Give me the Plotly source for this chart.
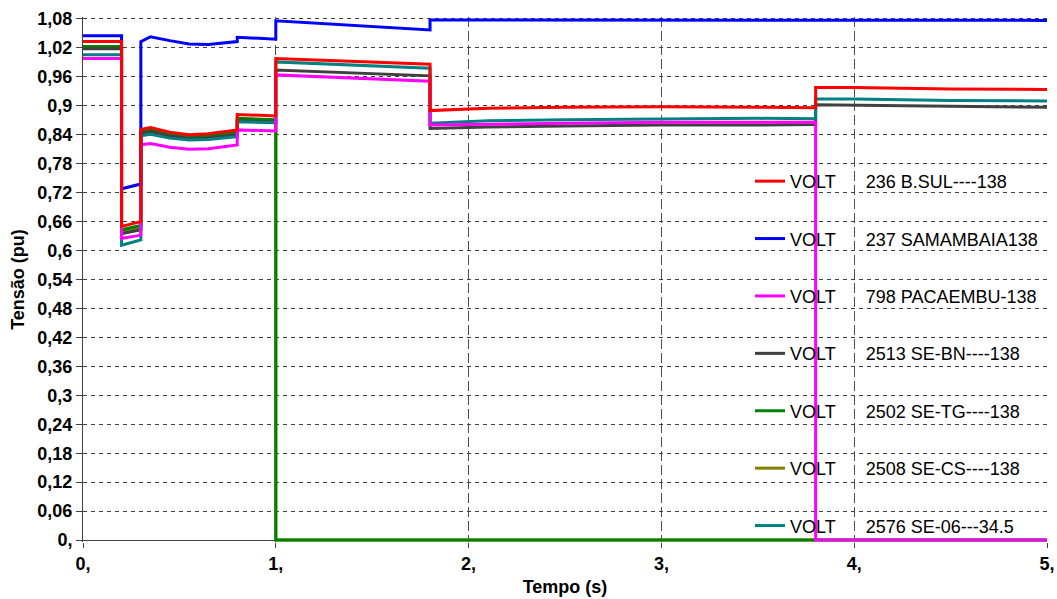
import plotly.graph_objects as go

# Time axis (s) with repeated instants for the discontinuities
tempo = [0.0, 0.2, 0.2, 0.3, 0.3, 0.35, 0.45, 0.55, 0.65, 0.8, 0.8, 1.0, 1.0,
         1.4, 1.8, 1.8, 2.1, 2.5, 3.0, 3.5, 3.8, 3.8, 4.0, 4.5, 5.0]

v_236 = [1.033, 1.033, 0.650, 0.660, 0.851, 0.855, 0.845, 0.840, 0.842, 0.850, 0.882, 0.879, 0.998,
         0.992, 0.986, 0.890, 0.895, 0.897, 0.898, 0.897, 0.896, 0.938, 0.938, 0.935, 0.934]
v_237 = [1.045, 1.045, 0.728, 0.738, 1.033, 1.043, 1.035, 1.028, 1.027, 1.033, 1.042, 1.038, 1.076,
         1.066, 1.057, 1.078, 1.078, 1.078, 1.077, 1.077, 1.077, 1.077, 1.078, 1.077, 1.077]
v_798 = [0.998, 0.998, 0.625, 0.632, 0.819, 0.822, 0.814, 0.810, 0.811, 0.819, 0.850, 0.848, 0.964,
         0.957, 0.951, 0.860, 0.862, 0.864, 0.866, 0.866, 0.866, 0.0, 0.0, 0.0, 0.0]
v_2513 = [1.018, 1.018, 0.635, 0.643, 0.843, 0.846, 0.837, 0.832, 0.834, 0.840, 0.869, 0.866, 0.974,
          0.968, 0.962, 0.853, 0.856, 0.858, 0.860, 0.860, 0.861, 0.902, 0.901, 0.898, 0.897]
v_2502 = [1.023, 1.023, 0.643, 0.652, 0.848, 0.851, 0.842, 0.837, 0.839, 0.846, 0.874, 0.871, 0.0,
          0.0, 0.0, 0.0, 0.0, 0.0, 0.0, 0.0, 0.0, 0.0, 0.0, 0.0, 0.0]
v_2508 = [1.020, 1.020, 0.640, 0.648, 0.846, 0.849, 0.840, 0.835, 0.837, 0.844, 0.872, 0.869, 0.0,
          0.0, 0.0, 0.0, 0.0, 0.0, 0.0, 0.0, 0.0, 0.0, 0.0, 0.0, 0.0]
v_2576 = [1.006, 1.006, 0.611, 0.622, 0.838, 0.841, 0.833, 0.829, 0.830, 0.836, 0.867, 0.865, 0.991,
          0.985, 0.978, 0.864, 0.869, 0.871, 0.873, 0.874, 0.873, 0.914, 0.914, 0.911, 0.910]

nomes = ["236 B.SUL----138", "237 SAMAMBAIA138", "798 PACAEMBU-138", "2513 SE-BN----138",
         "2502 SE-TG----138", "2508 SE-CS----138", "2576 SE-06---34.5"]
cores = ["#FF0000", "#0000FF", "#FF00FF", "#404040", "#008000", "#808000", "#008080"]
series = [v_236, v_237, v_798, v_2513, v_2502, v_2508, v_2576]

y_ticks = [round(i * 0.06, 2) for i in range(19)]
y_ticktext = [format(v, ".2f").rstrip("0").replace(".", ",") for v in y_ticks]
x_ticks = [0, 1, 2, 3, 4, 5]
x_ticktext = [f"{v}," for v in x_ticks]

# drawing order (bottom -> top); legend order via legendrank
ordem_desenho = [5, 4, 3, 6, 2, 1, 0]

fig = go.Figure()
for i in ordem_desenho:
    fig.add_trace(go.Scatter(
        x=tempo, y=series[i], mode="lines",
        line=dict(color=cores[i], width=3),
        name="VOLT" + "\u00a0" * 6 + nomes[i],
        legendrank=i + 1, legendgroup=f"g{i}",
    ))

fig.update_layout(
    width=1057, height=599,
    margin=dict(l=83, r=10, t=17, b=57, autoexpand=False),
    plot_bgcolor="white", paper_bgcolor="white",
    font=dict(family="Arial, Liberation Sans, sans-serif", color="black"),
    showlegend=True,
    legend=dict(
        xref="paper", yref="paper", x=0.6919, y=0.722,
        xanchor="left", yanchor="top",
        bgcolor="rgba(0,0,0,0)", borderwidth=0,
        font=dict(size=18, family="Arial, Liberation Sans, sans-serif", color="black"),
        tracegroupgap=31, itemwidth=30, maxheight=1,
    ),
    xaxis=dict(
        range=[0, 5], tickvals=x_ticks, ticktext=x_ticktext,
        showgrid=True, gridcolor="#505050", gridwidth=1, griddash="10px,4px",
        ticks="outside", ticklen=5, tickcolor="#404040",
        showline=False, zeroline=False,
        tickfont=dict(size=18, weight="bold"),
        title=dict(text="Tempo (s)", font=dict(size=18, weight="bold"), standoff=7),
    ),
    yaxis=dict(
        range=[-0.004, 1.084], tickvals=y_ticks, ticktext=y_ticktext,
        showgrid=True, gridcolor="#404040", gridwidth=1, griddash="4px,4px",
        ticks="outside", ticklen=6, tickcolor="#404040",
        showline=True, linecolor="#404040", linewidth=1,
        zeroline=True, zerolinecolor="#404040", zerolinewidth=1,
        tickfont=dict(size=18, weight="bold"),
        title=dict(text="Tensão (pu)", font=dict(size=18, weight="bold"), standoff=8),
    ),
)

fig.write_html("out.html")
